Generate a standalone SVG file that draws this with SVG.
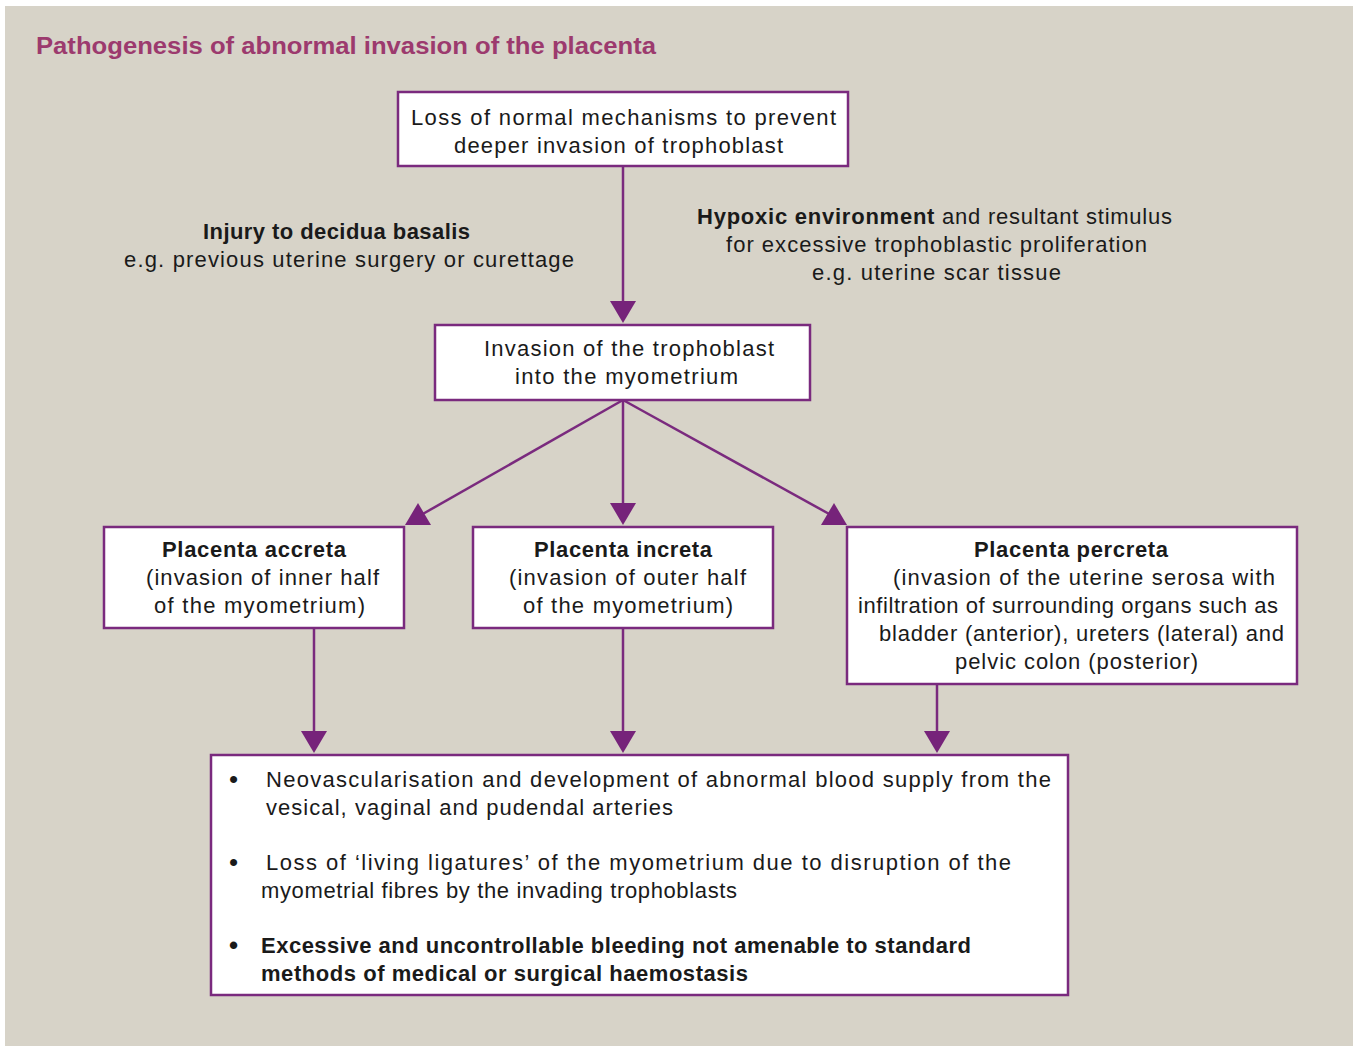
<svg xmlns="http://www.w3.org/2000/svg" width="1353" height="1046" viewBox="0 0 1353 1046">
<style>
.box{fill:#fff;stroke:#7a2a7e;stroke-width:2.5}
.ln{stroke:#7a2a7e;stroke-width:2.5;fill:none}
.ah{fill:#76237a}
text{font-family:"Liberation Sans",Arial,sans-serif;font-size:22px;fill:#1a1a1a}
.b{font-weight:bold}
.bul{font-size:26px}
.title{font-size:23px;font-weight:bold;fill:#9c3a6e}
</style>
<rect x="0" y="0" width="1353" height="1046" fill="#fff"/>
<rect x="5" y="6" width="1348" height="1040" fill="#d7d3c8"/>
<text class="title" x="36" y="54" textLength="620" lengthAdjust="spacingAndGlyphs">Pathogenesis of abnormal invasion of the placenta</text>

<g id="connectors">
<line class="ln" x1="623" y1="166" x2="623" y2="305"/>
<polygon class="ah" points="610,301 636,301 623,323"/>
<line class="ln" x1="623" y1="400" x2="623" y2="505"/>
<polygon class="ah" points="610,503 636,503 623,525"/>
<line class="ln" x1="623" y1="400" x2="421" y2="515"/>
<polygon class="ah" points="418,503 431,525 405,525"/>
<line class="ln" x1="623" y1="400" x2="831" y2="515"/>
<polygon class="ah" points="834,503 847,525 821,525"/>
<line class="ln" x1="314" y1="628" x2="314" y2="735"/>
<polygon class="ah" points="301,731 327,731 314,753"/>
<line class="ln" x1="623" y1="628" x2="623" y2="735"/>
<polygon class="ah" points="610,731 636,731 623,753"/>
<line class="ln" x1="937" y1="684" x2="937" y2="735"/>
<polygon class="ah" points="924,731 950,731 937,753"/>
</g>

<g id="loss">
<rect class="box" x="398" y="92" width="450" height="74"/>
<text x="411" y="125" textLength="425" lengthAdjust="spacing">Loss of normal mechanisms to prevent</text>
<text x="454" y="153" textLength="329" lengthAdjust="spacing">deeper invasion of trophoblast</text>
</g>

<g id="injury">
<text class="b" x="203" y="239" textLength="267" lengthAdjust="spacing">Injury to decidua basalis</text>
<text x="124" y="267" textLength="450" lengthAdjust="spacing">e.g. previous uterine surgery or curettage</text>
</g>

<g id="hypoxic">
<text x="697" y="224" textLength="475" lengthAdjust="spacing"><tspan class="b">Hypoxic environment</tspan> and resultant stimulus</text>
<text x="726" y="252" textLength="421" lengthAdjust="spacing">for excessive trophoblastic proliferation</text>
<text x="812" y="280" textLength="249" lengthAdjust="spacing">e.g. uterine scar tissue</text>
</g>

<g id="invasion">
<rect class="box" x="435" y="325" width="375" height="75"/>
<text x="484" y="356" textLength="290" lengthAdjust="spacing">Invasion of the trophoblast</text>
<text x="515" y="384" textLength="223" lengthAdjust="spacing">into the myometrium</text>
</g>

<g id="accreta">
<rect class="box" x="104" y="527" width="300" height="101"/>
<text class="b" x="162" y="557" textLength="184" lengthAdjust="spacing">Placenta accreta</text>
<text x="146" y="585" textLength="233" lengthAdjust="spacing">(invasion of inner half</text>
<text x="154" y="613" textLength="211" lengthAdjust="spacing">of the myometrium)</text>
</g>

<g id="increta">
<rect class="box" x="473" y="527" width="300" height="101"/>
<text class="b" x="534" y="557" textLength="178" lengthAdjust="spacing">Placenta increta</text>
<text x="509" y="585" textLength="237" lengthAdjust="spacing">(invasion of outer half</text>
<text x="523" y="613" textLength="210" lengthAdjust="spacing">of the myometrium)</text>
</g>

<g id="percreta">
<rect class="box" x="847" y="527" width="450" height="157"/>
<text class="b" x="974" y="557" textLength="194" lengthAdjust="spacing">Placenta percreta</text>
<text x="893" y="585" textLength="382" lengthAdjust="spacing">(invasion of the uterine serosa with</text>
<text x="858" y="613" textLength="420" lengthAdjust="spacing">infiltration of surrounding organs such as</text>
<text x="879" y="641" textLength="405" lengthAdjust="spacing">bladder (anterior), ureters (lateral) and</text>
<text x="955" y="669" textLength="243" lengthAdjust="spacing">pelvic colon (posterior)</text>
</g>

<g id="consequences">
<rect class="box" x="211" y="755" width="857" height="240"/>
<text class="bul" x="229" y="788">•</text>
<text x="266" y="787" textLength="785" lengthAdjust="spacing">Neovascularisation and development of abnormal blood supply from the</text>
<text x="266" y="815" textLength="407" lengthAdjust="spacing">vesical, vaginal and pudendal arteries</text>
<text class="bul" x="229" y="871">•</text>
<text x="266" y="870" textLength="745" lengthAdjust="spacing">Loss of ‘living ligatures’ of the myometrium due to disruption of the</text>
<text x="261" y="898" textLength="476" lengthAdjust="spacing">myometrial fibres by the invading trophoblasts</text>
<text class="bul b" x="229" y="954">•</text>
<text class="b" x="261" y="953" textLength="710" lengthAdjust="spacing">Excessive and uncontrollable bleeding not amenable to standard</text>
<text class="b" x="261" y="981" textLength="487" lengthAdjust="spacing">methods of medical or surgical haemostasis</text>
</g>
</svg>
